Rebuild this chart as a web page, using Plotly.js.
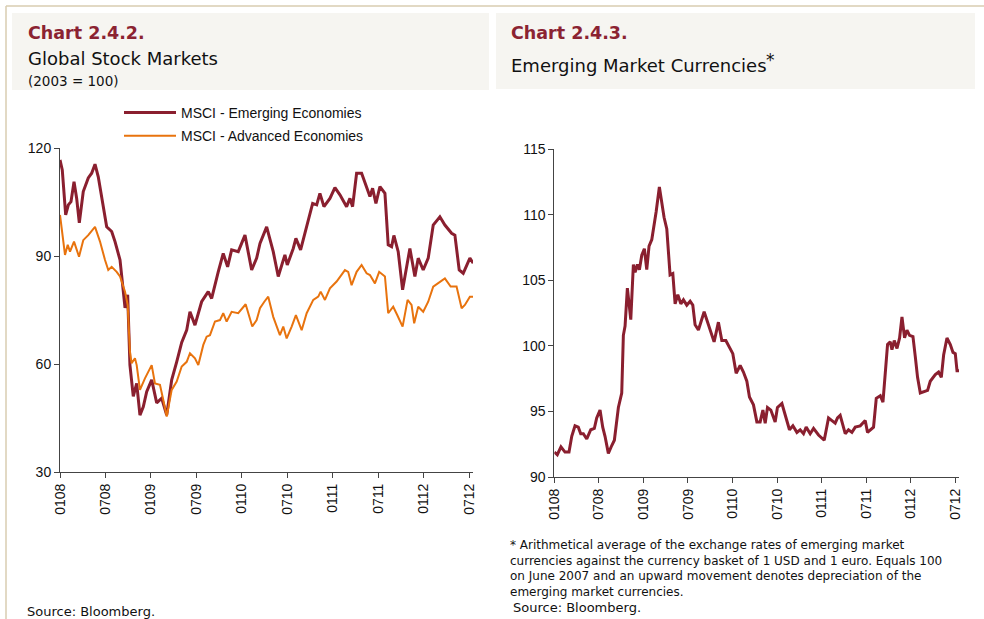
<!DOCTYPE html>
<html>
<head>
<meta charset="utf-8">
<script src="https://cdn.plot.ly/plotly-3.0.1.min.js"></script>
<style>
html,body{margin:0;padding:0;background:#fff;}
#chart{width:984px;height:619px;}
</style>
</head>
<body>
<div id="chart"></div>
<script>
// ---- Data (x = months since January 2008) ----
const tickVals = [0, 6, 12, 18, 24, 30, 36, 42, 48, 54];
const tickLabels = ['0108', '0708', '0109', '0709', '0110', '0710', '0111', '0711', '0112', '0712'];

const emMonths = [0, 0.30, 0.75, 1.10, 1.45, 1.85, 2.20, 2.55, 3.07, 3.73, 4.18, 4.62, 5.05, 5.50, 6.16, 6.82, 7.26, 7.92, 8.14, 8.58, 8.93, 9.23, 9.67, 10.12, 10.55, 10.99, 11.44, 12.10, 12.76, 13.42, 14.08, 14.74, 15.40, 16.06, 16.72, 17.15, 17.81, 18.69, 19.56, 20.01, 20.88, 21.54, 22.12, 22.65, 23.52, 24.41, 25.29, 25.95, 26.39, 27.27, 28.14, 28.80, 29.68, 29.99, 30.78, 31.13, 31.75, 32.55, 33.34, 33.87, 34.30, 34.83, 35.62, 36.28, 36.94, 37.82, 38.26, 38.61, 39.14, 39.80, 40.46, 40.90, 41.25, 41.69, 42.22, 42.88, 43.31, 43.76, 44.06, 44.63, 45.21, 45.74, 46.17, 46.83, 47.27, 47.93, 48.59, 49.25, 50.13, 50.79, 51.68, 52.11, 52.68, 53.21, 53.65, 54.09, 54.53];
const emValues = [116.7, 113.9, 101.4, 104.2, 105.1, 110.6, 106, 99.2, 107.9, 111.7, 113, 115.5, 112, 106.5, 98.1, 96.8, 94, 88.9, 84, 75.6, 79.2, 59.7, 51, 54.6, 45.8, 48.1, 52.3, 55.6, 49.2, 50.5, 45.8, 55.6, 60.6, 66, 69.4, 74.5, 70.8, 77.3, 80.1, 78.2, 85.6, 90.7, 87, 91.7, 91.2, 95.8, 86.1, 89.4, 93.5, 98.1, 91.2, 84.3, 90.3, 87.5, 92.1, 94.9, 91.7, 98.1, 104.6, 104.2, 107.4, 103.7, 106, 109, 107, 103.7, 106, 103.7, 113, 113, 108.8, 106.5, 108.8, 104.6, 109.3, 107.4, 93.1, 92.6, 95.7, 91.2, 80.6, 87.5, 92.1, 84.3, 89.4, 86.1, 89.4, 98.6, 100.9, 98.6, 96.3, 95.8, 86.1, 85.2, 87.5, 89.4, 88];

const advMonths = [0, 0.30, 0.66, 1.02, 1.32, 1.85, 2.51, 3.07, 3.73, 4.62, 5.28, 5.94, 6.37, 6.82, 7.48, 7.92, 8.58, 8.93, 9.23, 9.45, 9.89, 10.12, 10.55, 11.21, 11.65, 12.10, 12.53, 13.19, 13.63, 14.08, 14.74, 15.40, 16.06, 16.72, 17.15, 17.81, 18.25, 18.91, 19.35, 19.79, 20.45, 21.11, 21.54, 21.99, 22.65, 23.52, 24.50, 25.37, 25.95, 26.39, 26.96, 27.48, 28.14, 29.02, 29.46, 29.91, 30.57, 31.13, 31.89, 32.55, 33.42, 34.08, 34.40, 34.96, 35.62, 36.50, 37.60, 38.03, 38.48, 39.14, 39.80, 40.46, 40.90, 41.56, 42.12, 42.88, 43.31, 43.97, 44.50, 45.21, 45.87, 46.39, 46.74, 47.27, 47.93, 48.59, 49.25, 50.13, 50.79, 51.55, 52.33, 53.00, 53.43, 54.09, 54.53];
const advValues = [101.4, 95.8, 90.3, 93.1, 91.2, 94, 89.8, 94.4, 95.8, 98.1, 94, 88.9, 86.1, 87, 85.6, 84.3, 80.1, 76.4, 63.4, 60.2, 61.6, 59.7, 52.8, 56, 57.9, 59.7, 54.6, 54.2, 50, 45.4, 52.8, 55.1, 59.3, 60.6, 63, 61.6, 59.7, 65.3, 67.6, 68, 71.8, 72.2, 74.1, 71.8, 74.5, 74.1, 76.6, 70.4, 72.2, 75.5, 77.3, 78.7, 73.1, 68, 70.4, 67.1, 70.4, 73.6, 69.4, 74.1, 77.8, 78.7, 80.1, 77.8, 81, 82.9, 86.1, 85.6, 81.9, 85.6, 87.5, 85.2, 84.7, 82.4, 85.6, 84.3, 74.1, 75.9, 73.6, 70.4, 77.8, 76.4, 71.3, 75.9, 74.5, 77.3, 81.5, 82.9, 83.8, 81.5, 81.5, 75.5, 76.4, 78.7, 78.7];

const fxMonths = [0, 0.40, 0.90, 1.44, 1.98, 2.35, 2.79, 3.23, 3.56, 3.91, 4.37, 4.91, 5.39, 5.71, 6.16, 6.52, 6.83, 7.28, 7.74, 8.09, 8.63, 9.08, 9.30, 9.53, 9.84, 10.30, 10.65, 10.88, 11.19, 11.46, 11.78, 12.13, 12.45, 12.76, 13.13, 13.34, 13.71, 14.15, 14.47, 14.78, 15.15, 15.59, 15.96, 16.27, 16.63, 17.04, 17.39, 17.84, 18.29, 18.65, 18.96, 19.41, 20.18, 20.75, 21.52, 22.10, 22.56, 23.10, 23.68, 24.04, 24.49, 25.03, 25.47, 25.93, 26.28, 26.82, 27.28, 27.72, 28.09, 28.40, 28.71, 29.16, 29.74, 30.05, 30.65, 31.09, 31.67, 32.13, 32.67, 33.11, 33.56, 33.92, 34.46, 34.91, 35.58, 36.35, 36.93, 37.39, 37.83, 38.14, 38.50, 39.18, 39.62, 40.08, 40.53, 41.20, 41.87, 42.18, 42.99, 43.36, 43.90, 44.26, 44.57, 44.88, 45.24, 45.47, 45.78, 46.15, 46.50, 46.82, 47.17, 47.49, 47.84, 48.30, 48.61, 48.92, 49.29, 49.73, 50.27, 50.63, 51.31, 51.75, 52.12, 52.43, 52.88, 53.33, 53.69, 54.00, 54.23, 54.54];
const fxValues = [91.9, 91.7, 92.3, 91.9, 91.9, 93.1, 93.9, 93.8, 93.3, 93.3, 92.9, 93.6, 93.7, 94.5, 95.1, 93.8, 93.1, 91.8, 92.4, 92.8, 95.3, 96.4, 100.8, 101.5, 104.4, 102, 106.2, 105.6, 106.2, 105.8, 106.9, 107.4, 105.8, 107.6, 108.1, 108.8, 110.2, 112.1, 110.9, 109.8, 108.9, 105.4, 105.5, 103.2, 103.9, 103.2, 103.5, 103.1, 103.4, 103.1, 101.6, 101.2, 102.6, 101.6, 100.3, 101.8, 100.4, 100.4, 99.8, 99.4, 97.9, 98.5, 98, 97.3, 96.1, 95.5, 94.2, 94.2, 95.1, 94.1, 95.3, 95.1, 94.2, 95.3, 95.6, 94.7, 93.6, 93.9, 93.4, 93.6, 93.3, 93.8, 93.3, 93.7, 93.2, 92.8, 94.5, 94.3, 94.1, 94.5, 94.7, 93.3, 93.6, 93.4, 93.8, 93.9, 94.3, 93.4, 93.8, 96, 96.2, 95.7, 98, 100.1, 100.3, 99.7, 100.4, 99.8, 100.6, 102.2, 100.6, 101.2, 100.8, 100.7, 99.2, 97.6, 96.4, 96.5, 96.6, 97.3, 97.8, 98, 97.6, 99.3, 100.6, 100.1, 99.5, 99.4, 98.1, 98.1];

const leftYTicks = [30, 60, 90, 120];
const rightYTicks = [90, 95, 100, 105, 110, 115];

// ---- Styling ----
const W = 984, H = 619;
const px = x => x / W;
const py = y => 1 - y / H;
const RED = '#8a1f2f';
const ORANGE = '#e8730e';
const TXTFONT = '"DejaVu Sans", sans-serif';
const AXFONT = '"Liberation Sans", Arial, sans-serif';

const traces = [
  {x: emMonths, y: emValues, type: 'scatter', mode: 'lines', name: 'MSCI - Emerging Economies',
   line: {color: RED, width: 3}, xaxis: 'x', yaxis: 'y', legendgroup: 'a', hoverinfo: 'skip'},
  {x: advMonths, y: advValues, type: 'scatter', mode: 'lines', name: 'MSCI - Advanced Economies',
   line: {color: ORANGE, width: 2}, xaxis: 'x', yaxis: 'y', legendgroup: 'b', hoverinfo: 'skip'},
  {x: fxMonths, y: fxValues, type: 'scatter', mode: 'lines', name: 'Emerging Market Currencies',
   line: {color: RED, width: 3}, xaxis: 'x2', yaxis: 'y2', showlegend: false, hoverinfo: 'skip'}
];

const xCommon = {
  tickmode: 'array', tickvals: tickVals, ticktext: tickLabels, tickangle: -90,
  range: [0, 54.5], showgrid: false, zeroline: false, showline: true, linecolor: '#444', linewidth: 1,
  ticks: 'outside', ticklen: 5, tickcolor: '#444', tickfont: {family: AXFONT, size: 14, color: '#111'}, fixedrange: true
};
const yCommon = {
  showgrid: false, zeroline: false, showline: true, linecolor: '#444', linewidth: 1,
  ticks: 'outside', ticklen: 5, tickcolor: '#444', tickfont: {family: AXFONT, size: 14, color: '#111'}, fixedrange: true
};

const layout = {
  width: W, height: H,
  margin: {l: 0, r: 0, t: 0, b: 0},
  paper_bgcolor: '#fff', plot_bgcolor: '#fff',
  showlegend: true,
  legend: {x: px(119), y: py(97), xanchor: 'left', yanchor: 'top', bgcolor: 'rgba(0,0,0,0)',
           font: {family: AXFONT, size: 14, color: '#111'}, tracegroupgap: 2, itemwidth: 52},
  xaxis: Object.assign({}, xCommon, {domain: [px(60), px(473)], anchor: 'y'}),
  yaxis: Object.assign({}, yCommon, {domain: [py(472), py(148)], range: [30, 120], tickmode: 'array', tickvals: leftYTicks, anchor: 'x'}),
  xaxis2: Object.assign({}, xCommon, {domain: [px(554.3), px(959)], anchor: 'y2'}),
  yaxis2: Object.assign({}, yCommon, {domain: [py(477), py(149)], range: [90, 115], tickmode: 'array', tickvals: rightYTicks, anchor: 'x2'}),
  shapes: [
    {type: 'rect', xref: 'paper', yref: 'paper', x0: px(12), x1: px(489), y0: py(90), y1: py(13), fillcolor: '#f6f5f1', line: {width: 0}, layer: 'below'},
    {type: 'rect', xref: 'paper', yref: 'paper', x0: px(496), x1: px(975), y0: py(89), y1: py(13), fillcolor: '#f6f5f1', line: {width: 0}, layer: 'below'},
    {type: 'line', xref: 'paper', yref: 'paper', x0: px(6), x1: px(984), y0: py(6), y1: py(6), line: {color: '#d9ccb0', width: 1.5}},
    {type: 'line', xref: 'paper', yref: 'paper', x0: px(6), x1: px(6), y0: py(6), y1: py(619), line: {color: '#d9ccb0', width: 1.5}}
  ],
  annotations: [
    {text: '<b>Chart 2.4.2.</b>', xref: 'paper', yref: 'paper', x: px(26), y: py(33), xanchor: 'left', yanchor: 'middle', showarrow: false, font: {family: TXTFONT, size: 17.5, color: '#8b2332'}},
    {text: 'Global Stock Markets', xref: 'paper', yref: 'paper', x: px(26), y: py(59), xanchor: 'left', yanchor: 'middle', showarrow: false, font: {family: TXTFONT, size: 18, color: '#111'}},
    {text: '(2003 = 100)', xref: 'paper', yref: 'paper', x: px(26), y: py(81), xanchor: 'left', yanchor: 'middle', showarrow: false, font: {family: TXTFONT, size: 13.5, color: '#111'}},
    {text: '<b>Chart 2.4.3.</b>', xref: 'paper', yref: 'paper', x: px(509), y: py(33), xanchor: 'left', yanchor: 'middle', showarrow: false, font: {family: TXTFONT, size: 17.5, color: '#8b2332'}},
    {text: 'Emerging Market Currencies', xref: 'paper', yref: 'paper', x: px(509), y: py(65), xanchor: 'left', yanchor: 'middle', showarrow: false, font: {family: TXTFONT, size: 18, color: '#111'}},
    {text: '*', xref: 'paper', yref: 'paper', x: px(764), y: py(60), xanchor: 'left', yanchor: 'middle', showarrow: false, font: {family: TXTFONT, size: 17, color: '#111'}},
    {text: '* Arithmetical average of the exchange rates of emerging market<br>currencies against the currency basket of 1 USD and 1 euro. Equals 100<br>on June 2007 and an upward movement denotes depreciation of the<br>emerging market currencies.',
     xref: 'paper', yref: 'paper', x: px(508), y: py(536), xanchor: 'left', yanchor: 'top', align: 'left', showarrow: false, font: {family: TXTFONT, size: 12, color: '#111'}},
    {text: 'Source: Bloomberg.', xref: 'paper', yref: 'paper', x: px(511), y: py(607), xanchor: 'left', yanchor: 'middle', showarrow: false, font: {family: TXTFONT, size: 13, color: '#111'}},
    {text: 'Source: Bloomberg.', xref: 'paper', yref: 'paper', x: px(25), y: py(611), xanchor: 'left', yanchor: 'middle', showarrow: false, font: {family: TXTFONT, size: 13, color: '#111'}}
  ]
};

Plotly.newPlot('chart', traces, layout, {displayModeBar: false, staticPlot: true});
</script>
</body>
</html>
